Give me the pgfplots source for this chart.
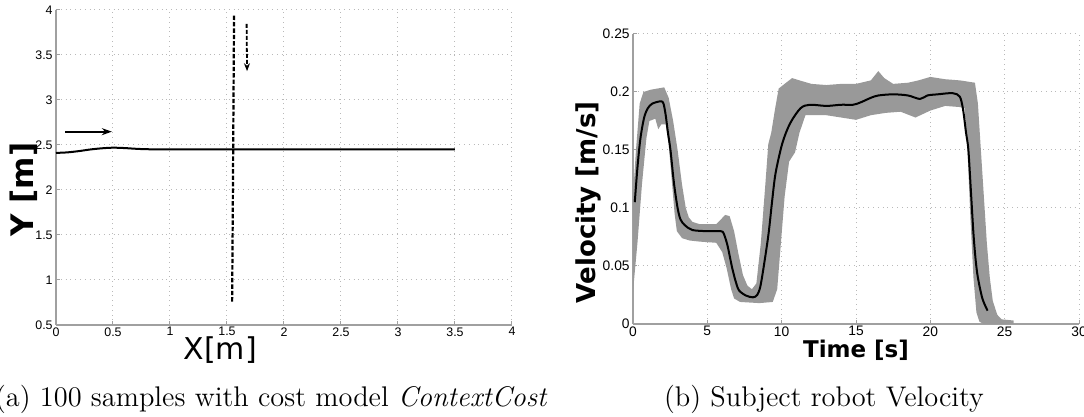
\documentclass[border=0pt]{standalone}
\usepackage{fontspec}
\usepackage{pgfplots}
\pgfplotsset{compat=1.18}
\usepgfplotslibrary{fillbetween}
\usetikzlibrary{arrows.meta}
\newfontfamily\ticksf{Liberation Sans}
\newfontfamily\labelsf{DejaVu Sans}
\definecolor{samp}{RGB}{153,153,153}
\definecolor{axgray}{RGB}{160,160,160}
\pgfplotsset{mstyle/.style={
  scale only axis,
  axis x line*=bottom, axis y line*=left,
  axis line style={axgray, line width=0.6pt},
  tick align=inside, major tick length=2pt,
  tick style={axgray, line width=0.5pt},
  grid=major, grid style={dotted, gray!55, line width=0.5pt},
  xticklabel style={inner sep=1pt, text=black},
  yticklabel style={inner sep=1.5pt, text=black},
}}
\begin{document}
\begin{tikzpicture}
% ---------------- left plot ----------------
\begin{axis}[mstyle,
  at={(28pt,46pt)}, anchor=south west,
  width=228pt, height=157.5pt,
  xmin=0, xmax=4, ymin=0.5, ymax=4,
  xtick={0,0.5,1,1.5,2,2.5,3,3.5,4},
  xticklabels={0,0.5,1,1.5,2,2.5,3,3.5,4},
  ytick={0.5,1,1.5,2,2.5,3,3.5,4},
  yticklabels={0.5,1,1.5,2,2.5,3,3.5,4},
  ticklabel style={font=\fontsize{6.2}{7}\ticksf},
  xlabel={X[m]},
  xlabel style={at={(axis description cs:0.36,-0.08)}, anchor=center, font=\fontsize{15}{15}\labelsf},
  ylabel={Y [m]},
  ylabel style={at={(axis description cs:-0.07,0.43)}, anchor=center, font=\fontsize{15.5}{15.5}\labelsf\bfseries},
]
\addplot[black, line width=1pt, smooth] coordinates {
(0,2.412) (0.1,2.418) (0.2,2.432) (0.3,2.45) (0.4,2.463) (0.5,2.47) (0.6,2.466) (0.7,2.458) (0.8,2.453) (1.0,2.451) (2.0,2.45) (3.5,2.45)};
\addplot[black, line width=1pt, -{Stealth[length=5pt,width=3.5pt]}] coordinates {(0.08,2.648) (0.49,2.648)};
\addplot[black, line width=1.1pt, dash pattern=on 2.2pt off 1pt] coordinates {(1.545,0.76) (1.552,2.0) (1.557,3.0) (1.562,3.94)};
\addplot[black, line width=0.9pt, dash pattern=on 2pt off 1pt, -{Stealth[length=4pt,width=3pt]}] coordinates {(1.672,3.845) (1.676,3.32)};
\end{axis}
% ---------------- right plot ----------------
\begin{axis}[mstyle,
  at={(316.5pt,46.5pt)}, anchor=south west,
  width=223pt, height=145pt,
  xmin=0, xmax=30, ymin=0, ymax=0.25,
  xtick={0,5,10,15,20,25,30},
  xticklabels={0,5,10,15,20,25,30},
  ytick={0,0.05,0.1,0.15,0.2,0.25},
  yticklabels={0,0.05,0.1,0.15,0.2,0.25},
  ticklabel style={font=\fontsize{6.9}{8}\ticksf},
  xlabel={Time [s]},
  xlabel style={at={(axis description cs:0.5,-0.09)}, anchor=center, font=\fontsize{11.5}{11.5}\labelsf\bfseries},
  ylabel={Velocity [m/s]},
  ylabel style={at={(axis description cs:-0.101,0.42)}, anchor=center, font=\fontsize{13}{13}\labelsf\bfseries},
]
\addplot[name path=up, draw=none] coordinates {
(0,0.11) (0.2,0.15) (0.45,0.19) (0.7,0.2) (1.2,0.202) (2.1,0.204) (2.4,0.195) (2.7,0.175) (3.0,0.15) (3.3,0.12) (3.55,0.1) (3.75,0.092) (4.0,0.088) (4.5,0.086) (5.6,0.086) (5.9,0.09) (6.2,0.094) (6.5,0.093) (6.8,0.08) (7.1,0.06) (7.4,0.042) (7.7,0.033) (8.0,0.03) (8.3,0.035) (8.6,0.07) (8.9,0.12) (9.1,0.155) (9.3,0.165) (9.55,0.185) (9.8,0.203) (10.2,0.207) (10.7,0.212) (11.2,0.21) (12,0.207) (13,0.206) (14,0.207) (15,0.207) (16,0.21) (16.5,0.218) (16.9,0.212) (17.5,0.207) (18.5,0.208) (19.2,0.21) (20,0.213) (21,0.211) (22,0.21) (23.0,0.208) (23.2,0.19) (23.4,0.15) (23.6,0.11) (23.8,0.07) (24.0,0.04) (24.2,0.02) (24.5,0.008) (24.8,0.004) (25.6,0.003) (25.6,0)};
\addplot[name path=lo, draw=none] coordinates {
(0,0.028) (0.3,0.07) (0.6,0.12) (0.9,0.16) (1.1,0.175) (1.5,0.177) (1.7,0.168) (1.9,0.172) (2.2,0.172) (2.4,0.155) (2.6,0.125) (2.8,0.095) (2.95,0.08) (3.3,0.074) (3.8,0.072) (4.5,0.071) (5.6,0.07) (6.0,0.062) (6.3,0.048) (6.6,0.03) (6.8,0.022) (7.2,0.019) (8.5,0.018) (9.4,0.019) (9.7,0.03) (9.95,0.07) (10.2,0.11) (10.5,0.14) (10.9,0.148) (11.2,0.165) (11.6,0.18) (12,0.18) (13,0.18) (14,0.178) (15,0.176) (16,0.18) (17,0.182) (18,0.183) (19,0.178) (20,0.184) (21,0.188) (22.0,0.187) (22.3,0.186) (22.5,0.15) (22.7,0.09) (22.9,0.04) (23.1,0.01) (23.3,0.002) (23.6,0) (25.6,0)};
\addplot[samp] fill between[of=up and lo];
\addplot[black, line width=1pt, smooth] coordinates {
(0.12,0.105) (0.3,0.135) (0.5,0.16) (0.75,0.178) (1.0,0.186) (1.3,0.19) (1.87,0.192) (2.05,0.19) (2.2,0.18) (2.35,0.165) (2.52,0.15) (2.75,0.122) (3.0,0.1) (3.2,0.09) (3.5,0.085) (4.0,0.081) (5.0,0.08) (5.9,0.08) (6.1,0.078) (6.35,0.068) (6.66,0.049) (6.9,0.037) (7.13,0.029) (7.6,0.0245) (8.07,0.023) (8.35,0.025) (8.56,0.032) (8.8,0.05) (9.12,0.078) (9.35,0.105) (9.59,0.13) (10.05,0.156) (10.57,0.173) (11.27,0.186) (11.9,0.189) (13,0.188) (14,0.189) (14.8,0.189) (15.3,0.191) (16,0.195) (16.5,0.197) (17.5,0.198) (18.5,0.197) (19.3,0.194) (19.8,0.197) (20.5,0.198) (21.5,0.199) (21.98,0.196) (22.2,0.185) (22.4,0.165) (22.56,0.15) (22.75,0.11) (22.9,0.078) (23.05,0.055) (23.2,0.04) (23.5,0.022) (23.85,0.0115)};
\end{axis}
% ---------------- captions ----------------
\node[anchor=base east, inner sep=0pt, font=\fontsize{14.2}{15}\selectfont] at (274pt,5pt) {(a) 100 samples with cost model \textit{ContextCost}};
\node[anchor=base, inner sep=0pt, font=\fontsize{14.2}{15}\selectfont] at (412pt,5pt) {(b) Subject robot Velocity};
\pgfresetboundingbox
\useasboundingbox (0,0) rectangle (542pt,208.5pt);
\end{tikzpicture}
\end{document}
